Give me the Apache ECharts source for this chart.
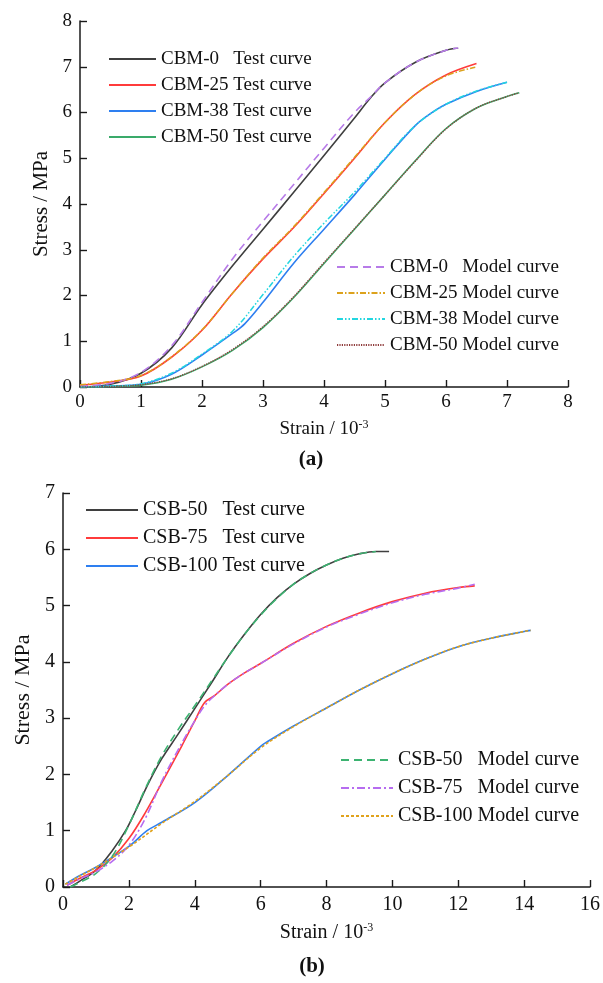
<!DOCTYPE html>
<html>
<head>
<meta charset="utf-8">
<script src="https://cdn.jsdelivr.net/npm/echarts@6/dist/echarts.min.js"></script>
<style>
html,body{margin:0;padding:0;background:#fff;}
#chart{width:603px;height:983px;}
</style>
</head>
<body>
<div id="chart"></div>
<script>
// ---------- Data (a) ----------
const xTicksA = [0,1,2,3,4,5,6,7,8];
const yTicksA = [0,1,2,3,4,5,6,7,8];
const cbm0Test  = [[0,0],[0.5,0.06],[1,0.3],[1.5,0.85],[2,1.8],[2.5,2.65],[3,3.45],[3.5,4.25],[4,5.06],[4.5,5.88],[4.75,6.3],[5,6.65],[5.5,7.1],[6,7.36],[6.2,7.41]];
const cbm25Test = [[0,0.04],[0.5,0.11],[1,0.24],[1.5,0.65],[2,1.24],[2.5,2.05],[3,2.8],[3.5,3.48],[4,4.23],[4.5,5.0],[5,5.78],[5.5,6.4],[6,6.82],[6.5,7.07]];
const cbm38Test = [[0,0],[0.5,0.02],[1,0.06],[1.5,0.28],[2,0.7],[2.5,1.17],[2.7,1.38],[3,1.85],[3.5,2.7],[4,3.45],[4.5,4.2],[5,4.98],[5.5,5.72],[5.75,5.98],[6,6.18],[6.5,6.46],[7,6.66]];
const cbm50Test = [[0,0],[0.5,0.01],[1,0.04],[1.5,0.17],[2,0.44],[2.5,0.8],[3,1.3],[3.5,1.95],[4,2.7],[4.5,3.45],[5,4.2],[5.5,4.95],[6,5.65],[6.5,6.1],[7,6.35],[7.2,6.43]];
const cbm0Model  = [[0,0.02],[0.5,0.08],[1,0.32],[1.5,0.9],[2,1.85],[2.5,2.8],[3,3.62],[3.5,4.42],[4,5.22],[4.5,6.0],[4.75,6.32],[5,6.65],[5.5,7.1],[6,7.36],[6.2,7.41]];
const cbm25Model = [[0,0.05],[0.5,0.12],[1,0.25],[1.5,0.66],[2,1.25],[2.5,2.05],[3,2.82],[3.5,3.5],[4,4.25],[4.5,5.02],[5,5.78],[5.5,6.4],[6,6.8],[6.48,6.99]];
const cbm38Model = [[0,0],[0.5,0.02],[1,0.07],[1.5,0.3],[2,0.72],[2.5,1.22],[3,2.02],[3.5,2.85],[4,3.58],[4.5,4.26],[5,5.0],[5.5,5.72],[6,6.18],[6.5,6.47],[7,6.66]];
const cbm50Model = [[0,0],[0.5,0.01],[1,0.05],[1.5,0.18],[2,0.45],[2.5,0.82],[3,1.32],[3.5,1.97],[4,2.72],[4.5,3.46],[5,4.2],[5.5,4.94],[6,5.64],[6.5,6.1],[7,6.35],[7.2,6.43]];

// ---------- Data (b) ----------
const xTicksB = [0,2,4,6,8,10,12,14,16];
const yTicksB = [0,1,2,3,4,5,6,7];
const csb50Test  = [[0.22,0],[0.5,0.1],[1,0.3],[1.5,0.65],[1.9,1.0],[2.2,1.35],[2.6,1.85],[3,2.28],[3.5,2.72],[4,3.17],[4.5,3.62],[5,4.08],[5.5,4.48],[6,4.84],[6.5,5.14],[7,5.38],[7.5,5.57],[8,5.72],[8.5,5.84],[9,5.92],[9.5,5.96],[9.9,5.96]];
const csb75Test  = [[0.12,0.03],[0.5,0.15],[1,0.3],[1.5,0.52],[2,0.86],[2.5,1.32],[3,1.85],[3.6,2.5],[4,2.95],[4.3,3.28],[4.6,3.4],[5,3.6],[5.5,3.8],[6,3.97],[7,4.33],[8,4.63],[9,4.87],[10,5.07],[11,5.22],[12,5.32],[12.5,5.35]];
const csb100Test = [[0.07,0.05],[0.5,0.2],[1,0.35],[2,0.72],[2.55,1.0],[3,1.15],[4,1.5],[5,1.98],[6,2.5],[6.2,2.58],[7,2.86],[8,3.18],[9,3.5],[10,3.79],[11,4.05],[12,4.27],[13,4.42],[14,4.54],[14.2,4.56]];
const csb50Model  = [[0.22,0],[0.5,0.08],[1,0.24],[1.5,0.55],[2,1.1],[2.5,1.75],[3,2.33],[3.5,2.8],[4,3.22],[4.5,3.65],[5,4.08],[5.5,4.48],[6,4.83],[6.5,5.13],[7,5.38],[7.5,5.57],[8,5.72],[8.5,5.84],[9,5.92],[9.5,5.96]];
const csb75Model  = [[0.12,0.03],[0.5,0.14],[1,0.27],[1.5,0.46],[2,0.74],[2.5,1.22],[3,1.88],[3.6,2.55],[4,2.95],[4.3,3.22],[4.6,3.4],[5,3.6],[5.5,3.8],[6,3.97],[7,4.32],[8,4.62],[9,4.85],[10,5.05],[11,5.2],[12,5.31],[12.5,5.38]];
const csb100Model = [[0.07,0.05],[0.5,0.19],[1,0.35],[2,0.71],[3,1.13],[4,1.52],[5,1.98],[6,2.47],[7,2.85],[8,3.18],[9,3.5],[10,3.79],[11,4.05],[12,4.27],[13,4.42],[14,4.54],[14.2,4.56]];

const FONT = 'Liberation Serif';
const AX = '#1a1a1a';

function mkX(grid, min, max, interval, fs, margin, nameGap) {
  return {
    type: 'value', gridIndex: grid, min: min, max: max, interval: interval,
    name: 'Strain / 10{sup|-3}', nameLocation: 'middle', nameGap: nameGap,
    nameTextStyle: {color: '#111', fontFamily: FONT, fontSize: fs,
      rich: {sup: {fontFamily: FONT, fontSize: Math.round(fs*0.62), color: '#111', padding: [0,0,9,0]}}},
    axisLine: {show: true, onZero: false, lineStyle: {color: AX, width: 1.5}},
    axisTick: {show: true, inside: true, length: 7, lineStyle: {color: AX, width: 1.4}},
    axisLabel: {color: '#111', fontFamily: FONT, fontSize: fs, margin: margin},
    splitLine: {show: false}
  };
}
function mkY(grid, min, max, interval, fs, nameGap, nfs) {
  return {
    type: 'value', gridIndex: grid, min: min, max: max, interval: interval,
    name: 'Stress / MPa', nameLocation: 'middle', nameGap: nameGap,
    nameTextStyle: {color: '#111', fontFamily: FONT, fontSize: nfs},
    axisLine: {show: true, onZero: false, lineStyle: {color: AX, width: 1.5}},
    axisTick: {show: true, inside: true, length: 7, lineStyle: {color: AX, width: 1.4}},
    axisLabel: {color: '#111', fontFamily: FONT, fontSize: fs, margin: 8},
    splitLine: {show: false}
  };
}
function line(name, data, xi, color, type, width, z) {
  return {
    name: name, type: 'line', xAxisIndex: xi, yAxisIndex: xi, data: data,
    smooth: 0.35, symbol: 'none', z: z || 2,
    lineStyle: {color: color, width: width || 1.6, type: type || 'solid'},
    itemStyle: {color: color}
  };
}

const C = {
  black: '#3f3f3f', red: '#ff3b3b', blue: '#2e7ff0', green: '#3aaa6a',
  purple: '#b77be8', orange: '#dca21c', cyan: '#22d6e0', brown: '#8e3b3b',
  green2: '#3cb371', purple2: '#b66cf0', orange2: '#e0a21c'
};

const series = [
  line('CBM-0   Test curve', cbm0Test, 0, C.black),
  line('CBM-25 Test curve', cbm25Test, 0, C.red),
  line('CBM-38 Test curve', cbm38Test, 0, C.blue),
  line('CBM-50 Test curve', cbm50Test, 0, C.green),
  line('CBM-0   Model curve', cbm0Model, 0, C.purple, [8,5], 1.6, 3),
  line('CBM-25 Model curve', cbm25Model, 0, C.orange, [6,2,1.5,2], 1.5, 3),
  line('CBM-38 Model curve', cbm38Model, 0, C.cyan, [6,2,1.5,2,1.5,2], 1.5, 3),
  line('CBM-50 Model curve', cbm50Model, 0, C.brown, [1.2,1.2], 1.4, 3),
  line('CSB-50   Test curve', csb50Test, 1, C.black),
  line('CSB-75   Test curve', csb75Test, 1, C.red),
  line('CSB-100 Test curve', csb100Test, 1, C.blue),
  line('CSB-50   Model curve', csb50Model, 1, C.green2, [8,5], 1.6, 3),
  line('CSB-75   Model curve', csb75Model, 1, C.purple2, [8,3,2,3], 1.6, 3),
  line('CSB-100 Model curve', csb100Model, 1, C.orange2, [3,2], 1.6, 3)
];

function legend(names, left, top, iw, fs, gap) {
  return {
    data: names, orient: 'vertical', left: left, top: top,
    itemWidth: iw, itemHeight: 14, itemGap: gap, padding: 0, selectedMode: false,
    itemStyle: {opacity: 0, borderWidth: 0},
    textStyle: {color: '#111', fontFamily: FONT, fontSize: fs, lineHeight: 20}
  };
}

const option = {
  animation: false,
  backgroundColor: '#fff',
  grid: [
    {left: 80, top: 21, width: 488, height: 366},
    {left: 63, top: 493, width: 530, height: 394}
  ],
  xAxis: [mkX(0, 0, 8, 1, 19, 6, 32), mkX(1, 0, 16, 2, 20, 8, 35)],
  yAxis: [mkY(0, 0, 8, 1, 19, 24, 21), mkY(1, 0, 7, 1, 20, 24, 22)],
  legend: [
    legend(['CBM-0   Test curve','CBM-25 Test curve','CBM-38 Test curve','CBM-50 Test curve'], 108, 49, 47, 19, 6),
    legend(['CBM-0   Model curve','CBM-25 Model curve','CBM-38 Model curve','CBM-50 Model curve'], 336, 257, 48, 19, 6),
    legend(['CSB-50   Test curve','CSB-75   Test curve','CSB-100 Test curve'], 85, 500, 52, 20, 8),
    legend(['CSB-50   Model curve','CSB-75   Model curve','CSB-100 Model curve'], 340, 750, 52, 20, 8)
  ],
  graphic: [
    {type: 'text', x: 311, y: 460, style: {text: '(a)', font: 'bold 21px "Liberation Serif"', fill: '#111', textAlign: 'center', textVerticalAlign: 'middle'}},
    {type: 'text', x: 312, y: 967, style: {text: '(b)', font: 'bold 21px "Liberation Serif"', fill: '#111', textAlign: 'center', textVerticalAlign: 'middle'}}
  ],
  series: series
};

const chart = echarts.init(document.getElementById('chart'), null, {renderer: 'canvas'});
chart.setOption(option);
</script>
</body>
</html>
